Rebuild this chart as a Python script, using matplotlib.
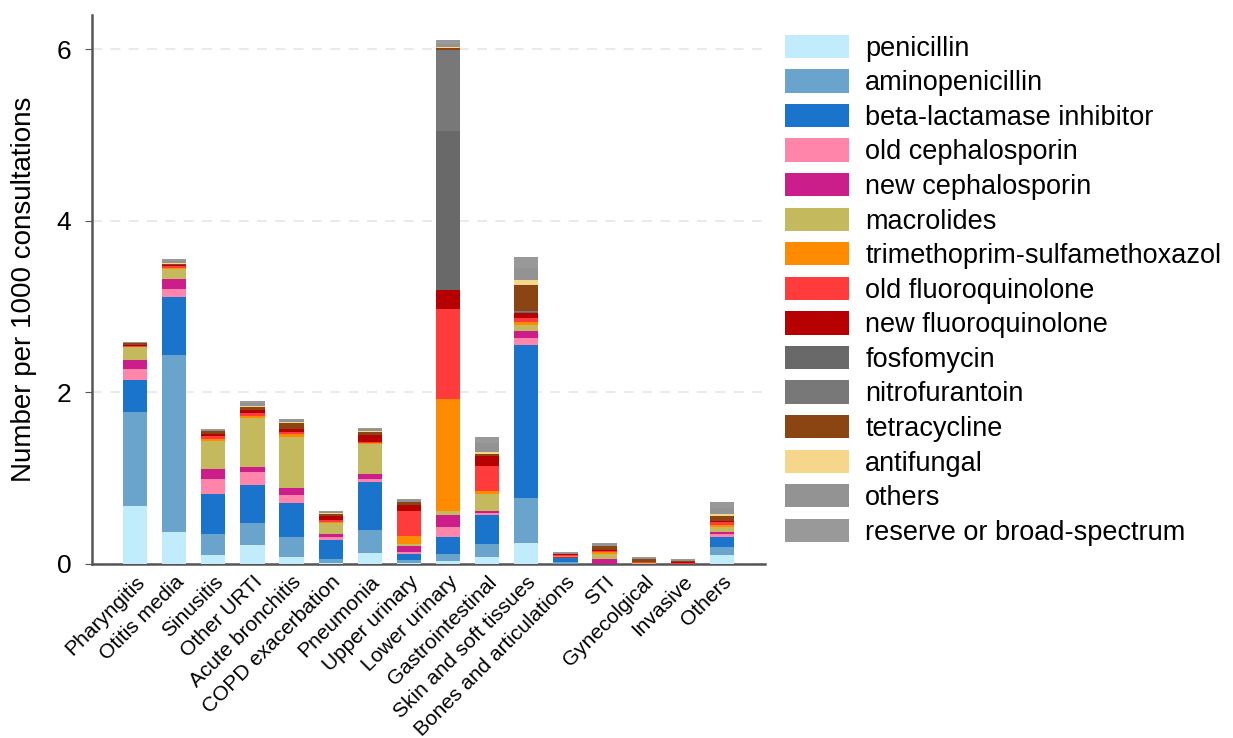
import numpy as np
import matplotlib.pyplot as plt

plt.rcParams['font.family'] = ['Liberation Sans', 'DejaVu Sans']

diagnoses = ['Pharyngitis', 'Otitis media', 'Sinusitis', 'Other URTI', 'Acute bronchitis',
             'COPD exacerbation', 'Pneumonia', 'Upper urinary', 'Lower urinary',
             'Gastrointestinal', 'Skin and soft tissues', 'Bones and articulations',
             'STI', 'Gynecolgical', 'Invasive', 'Others']

# prescriptions per 1000 consultations, one list per antibiotic class
penicillin       = [0.67, 0.37, 0.11, 0.22, 0.085, 0.01, 0.125, 0.01, 0.04, 0.08, 0.24, 0.005, 0, 0, 0, 0.105]
aminopenicillin  = [1.105, 2.06, 0.235, 0.255, 0.235, 0.045, 0.27, 0.04, 0.08, 0.155, 0.53, 0.015, 0, 0, 0, 0.095]
beta_lactamase   = [0.37, 0.68, 0.47, 0.445, 0.395, 0.225, 0.565, 0.065, 0.19, 0.33, 1.78, 0.05, 0.005, 0.005, 0.005, 0.12]
old_ceph         = [0.125, 0.10, 0.17, 0.155, 0.09, 0.04, 0.03, 0.03, 0.125, 0.028, 0.08, 0.003, 0, 0, 0, 0.028]
new_ceph         = [0.11, 0.11, 0.117, 0.06, 0.078, 0.03, 0.06, 0.065, 0.13, 0.024, 0.08, 0.003, 0.05, 0, 0, 0.024]
macrolides       = [0.145, 0.12, 0.33, 0.57, 0.60, 0.13, 0.345, 0.02, 0.05, 0.20, 0.07, 0.005, 0.065, 0.005, 0, 0.06]
trimethoprim     = [0.005, 0.01, 0.03, 0.015, 0.03, 0.015, 0.015, 0.10, 1.305, 0.03, 0.04, 0.01, 0.02, 0.005, 0, 0.02]
old_fluoro       = [0.01, 0.02, 0.03, 0.035, 0.03, 0.02, 0.01, 0.29, 1.05, 0.29, 0.05, 0.015, 0.01, 0.005, 0.005, 0.036]
new_fluoro       = [0.01, 0.01, 0.025, 0.04, 0.035, 0.04, 0.085, 0.067, 0.225, 0.125, 0.055, 0.005, 0.01, 0.005, 0.01, 0.014]
fosfomycin       = [0, 0, 0, 0, 0, 0, 0, 0, 1.855, 0, 0.01, 0, 0, 0, 0, 0]
nitrofurantoin   = [0, 0, 0, 0, 0, 0, 0, 0, 0.935, 0, 0.01, 0, 0, 0, 0, 0]
tetracycline     = [0.02, 0.02, 0.03, 0.04, 0.065, 0.03, 0.035, 0.03, 0.025, 0.025, 0.31, 0.005, 0.045, 0.03, 0.01, 0.06]
antifungal       = [0.005, 0.01, 0.005, 0.01, 0.01, 0.005, 0.01, 0.005, 0.01, 0.02, 0.05, 0, 0.005, 0.005, 0, 0.02]
others           = [0.01, 0.02, 0.015, 0.03, 0.02, 0.015, 0.025, 0.025, 0.04, 0.10, 0.14, 0.01, 0.02, 0.015, 0.015, 0.07]
reserve          = [0.005, 0.025, 0.01, 0.025, 0.015, 0.01, 0.015, 0.015, 0.05, 0.075, 0.135, 0.01, 0.02, 0.01, 0.015, 0.065]

series = [
    ('penicillin', penicillin, '#c0ecfb'),
    ('aminopenicillin', aminopenicillin, '#6aa3cb'),
    ('beta-lactamase inhibitor', beta_lactamase, '#1a74cc'),
    ('old cephalosporin', old_ceph, '#ff85ab'),
    ('new cephalosporin', new_ceph, '#cc1e8a'),
    ('macrolides', macrolides, '#c4b95c'),
    ('trimethoprim-sulfamethoxazol', trimethoprim, '#ff8c00'),
    ('old fluoroquinolone', old_fluoro, '#ff3b3b'),
    ('new fluoroquinolone', new_fluoro, '#b70000'),
    ('fosfomycin', fosfomycin, '#696969'),
    ('nitrofurantoin', nitrofurantoin, '#787878'),
    ('tetracycline', tetracycline, '#8b4513'),
    ('antifungal', antifungal, '#f6d68a'),
    ('others', others, '#939393'),
    ('reserve or broad-spectrum', reserve, '#999999'),
]

fig = plt.figure(figsize=(12.33, 7.38), dpi=100)
ax = fig.add_axes([0.0746, 0.2358, 0.5458, 0.7442])

x = np.arange(len(diagnoses))
bottom = np.zeros(len(diagnoses))
for name, vals, col in series:
    vals = np.array(vals)
    ax.bar(x, vals, 0.62, bottom=bottom, color=col, label=name, zorder=3)
    bottom += vals

ax.set_xlim(-1.1, len(diagnoses) - 1 + 1.1)
ax.set_ylim(0, 6.4)
ax.set_yticks([0, 2, 4, 6])
ax.yaxis.grid(True, linestyle=(0, (6, 5)), color='#e6e6e6', linewidth=1.2, zorder=0)
ax.set_xticks(x)
ax.set_xticklabels(diagnoses, rotation=45, ha='right', rotation_mode='anchor', fontsize=15)
ax.tick_params(axis='x', length=0, pad=6)
ax.tick_params(axis='y', labelsize=19, length=5, color='#555555', pad=10)
ax.set_ylabel('Number per 1000 consultations', fontsize=20, labelpad=14)

for side in ['top', 'right']:
    ax.spines[side].set_visible(False)
for side in ['left', 'bottom']:
    ax.spines[side].set_color('#555555')
    ax.spines[side].set_linewidth(1.8)

fig.legend(loc='upper left', bbox_to_anchor=(0.637, 0.953), frameon=False,
           fontsize=19.5, handlelength=2.35, handleheight=0.95, labelspacing=0.28,
           handletextpad=0.6, borderpad=0, borderaxespad=0)

fig.savefig('out.png', dpi=100)
